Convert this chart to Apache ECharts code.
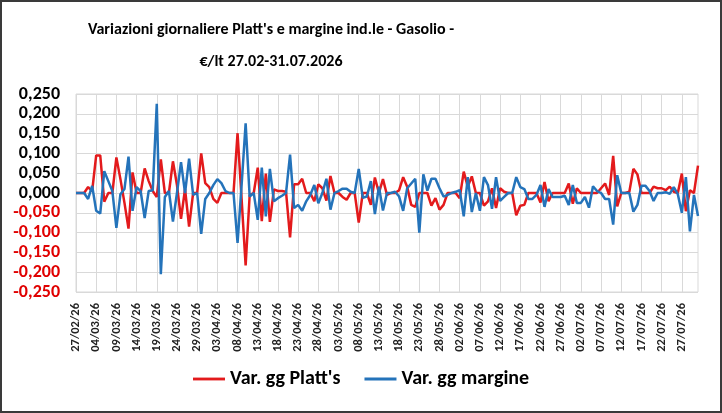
<!DOCTYPE html>
<html>
<head>
<meta charset="utf-8">
<script src="https://cdn.jsdelivr.net/npm/echarts@6/dist/echarts.min.js"></script>
<style>
  html, body { margin: 0; padding: 0; background: #fff; }
  #chart { width: 722px; height: 413px; box-sizing: border-box; border: 2px solid #3a3a3a; }
</style>
</head>
<body>
<div id="chart"></div>
<script>
// giorni dal 27/02/26 al 31/07/26
const startDate = Date.UTC(2026, 1, 27);
const dayCount = 155;
const categories = [];
for (let i = 0; i < dayCount; i++) {
    const d = new Date(startDate + i * 86400000);
    const dd = String(d.getUTCDate()).padStart(2, "0");
    const mm = String(d.getUTCMonth() + 1).padStart(2, "0");
    categories.push(dd + "/" + mm + "/" + String(d.getUTCFullYear()).slice(2));
}

const varPlatts = [
    0, 0, 0, 0.015, 0.005, 0.095, 0.095, -0.022, 0, 0,
    0.090, 0.035, -0.025, -0.090, 0.052, 0, 0, 0.062, 0.030, 0.005,
    -0.010, 0.085, 0, 0, 0.080, 0.020, -0.065, 0.010, -0.085, 0,
    0, 0.100, 0.025, 0.015, -0.015, -0.025, 0, 0, 0, 0,
    0.151, -0.015, -0.183, -0.005, 0, 0.064, -0.071, 0.049, -0.073, 0.009,
    0.005, 0.005, 0.003, -0.112, 0.022, 0.022, 0.036, 0, 0, -0.021,
    0.022, 0.012, -0.019, 0.043, 0, 0, -0.010, -0.017, 0, 0,
    -0.075, 0, 0, -0.030, 0.039, 0, 0.035, -0.005, 0, 0,
    0.007, 0.040, 0.016, -0.030, -0.035, 0, 0, 0, -0.032, -0.013,
    -0.042, -0.030, 0, 0, 0, -0.013, 0.054, 0.016, 0.042, 0,
    0, -0.032, -0.021, 0.012, -0.038, 0.012, 0.003, 0, 0, -0.056,
    -0.032, -0.030, 0, 0, 0, -0.024, 0.028, -0.021, 0, 0,
    0, 0, 0.024, -0.027, 0.012, 0, 0, 0, 0, 0,
    0.012, 0.024, -0.005, 0.094, -0.034, 0, 0, 0.003, 0.061, 0.047,
    0, 0, 0, 0.016, 0.012, 0.012, 0.007, 0.016, 0.003, 0,
    0.049, -0.046, 0.007, 0, 0.069
];

const varMargine = [
    0, 0, 0, -0.015, 0.018, -0.045, -0.052, 0.055, 0.030, 0.005,
    -0.088, -0.003, 0.010, 0.092, -0.045, 0.015, 0.005, -0.063, 0.005, 0.007,
    0.225, -0.205, -0.010, 0.005, -0.072, 0, 0.078, 0, 0.087, -0.005,
    0, -0.103, -0.015, 0, 0.020, 0.035, 0.025, 0.005, 0, 0,
    -0.126, 0.020, 0.176, -0.009, 0, -0.068, 0.064, -0.059, 0.061, -0.021,
    -0.013, -0.007, 0, 0.097, -0.038, -0.030, -0.045, -0.021, -0.005, 0.020,
    -0.026, 0, 0.036, -0.042, 0, 0.005, 0.011, 0.011, 0.003, 0,
    0.061, -0.012, -0.009, 0.030, -0.053, 0.016, -0.044, 0, 0, 0.003,
    -0.009, -0.045, 0.012, 0.024, 0.036, -0.100, 0.047, 0.006, 0.036, 0.036,
    0.012, -0.009, -0.005, 0, 0.003, 0.007, -0.059, 0.040, -0.048, 0,
    -0.045, 0.040, 0.020, -0.040, 0.040, -0.020, -0.010, 0, 0, 0.040,
    0.015, 0.010, -0.015, -0.015, -0.005, 0.020, -0.035, 0.010, -0.010, -0.010,
    -0.010, -0.007, -0.030, 0.020, -0.025, -0.025, -0.010, -0.037, 0.017, 0.005,
    0, -0.015, -0.015, -0.080, 0.045, 0, 0, 0, -0.047, -0.030,
    0.018, 0.018, 0.005, -0.020, 0, 0, 0.002, -0.002, 0.015, -0.003,
    -0.050, 0.040, -0.097, -0.005, -0.058
];

const fontName = "Carlito, Lato, 'Open Sans', sans-serif";
const lineIcon = "path://M0,0 L34,0 L34,3 L0,3 Z";

const myChart = echarts.init(document.getElementById("chart"));
myChart.setOption({
    animation: false,
    title: {
        text: "Variazioni giornaliere Platt's e margine ind.le - Gasolio -\n€/lt 27.02-31.07.2026",
        left: 264,
        top: 7,
        textAlign: "center",
        textStyle: { fontFamily: fontName, fontWeight: "bold", fontSize: 16, lineHeight: 32, color: "#000" }
    },
    legend: {
        bottom: 17,
        left: 186,
        icon: lineIcon,
        itemWidth: 32,
        itemHeight: 3,
        itemGap: 24,
        textStyle: { fontFamily: fontName, fontWeight: "bold", fontSize: 20, color: "#000" },
        data: ["Var. gg Platt's", "Var. gg margine"]
    },
    grid: {
        left: 74,
        right: 22,
        top: 92,
        bottom: 119,
        show: true,
        borderColor: "#d9d9d9",
        borderWidth: 1
    },
    xAxis: {
        type: "category",
        data: categories,
        boundaryGap: false,
        axisLine: { show: false, onZero: false },
        axisTick: { show: false },
        axisLabel: {
            interval: 4,
            rotate: 90,
            margin: 11,
            fontFamily: fontName,
            fontWeight: "bold",
            fontSize: 12.5,
            color: "#222"
        },
        splitLine: { show: true, interval: 4, lineStyle: { color: "#d9d9d9" } }
    },
    yAxis: {
        type: "value",
        min: -0.25,
        max: 0.25,
        interval: 0.05,
        axisLine: { show: false },
        axisTick: { show: false },
        axisLabel: {
            margin: 16,
            fontFamily: fontName,
            fontWeight: "bold",
            fontSize: 18,
            formatter: (v) => v.toFixed(3).replace(".", ","),
            color: (v) => (Number(v) < -0.0001 ? "#e00000" : "#000")
        },
        splitLine: { lineStyle: { color: "#d9d9d9" } }
    },
    series: [
        {
            name: "Var. gg Platt's",
            type: "line",
            data: varPlatts,
            symbol: "none",
            lineStyle: { color: "#e31a1c", width: 2.5 },
            itemStyle: { color: "#e31a1c" }
        },
        {
            name: "Var. gg margine",
            type: "line",
            data: varMargine,
            symbol: "none",
            lineStyle: { color: "#2473ba", width: 2.5 },
            itemStyle: { color: "#2473ba" }
        }
    ]
});
</script>
</body>
</html>
